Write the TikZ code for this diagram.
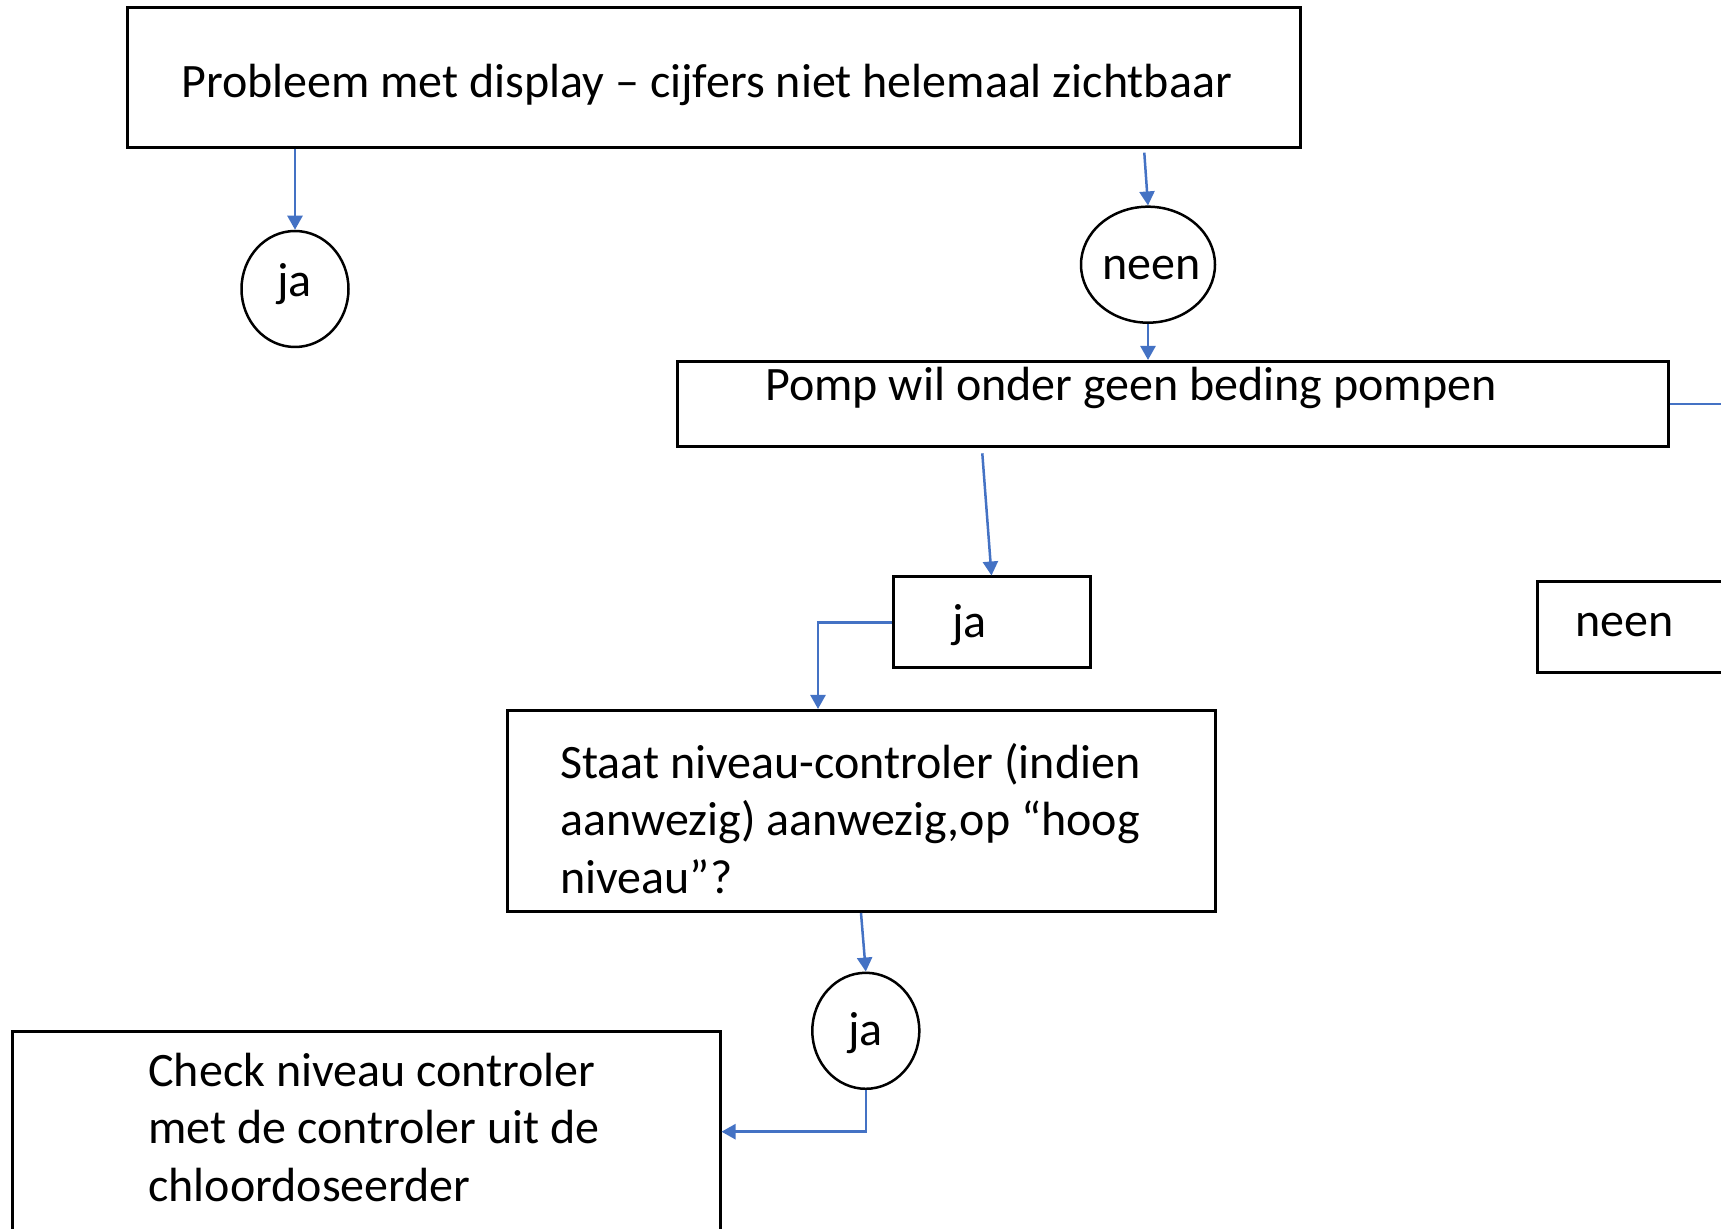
\documentclass[tikz,border=0pt]{standalone}
\usepackage{fontspec}
\setmainfont{Carlito}
\usetikzlibrary{shapes.geometric,arrows.meta,calc}
\definecolor{connblue}{HTML}{4472C4}
\tikzset{
  box/.style={draw=black, line width=1.5pt, rectangle, inner sep=0pt},
  oval/.style={draw=black, line width=1.25pt, ellipse, inner sep=0pt, minimum width=53.5pt, minimum height=58pt},
  conn/.style={draw=connblue, line width=1.25pt, -{Triangle[width=7.5pt,length=7pt]}},
  plainconn/.style={draw=connblue, line width=1.25pt},
  txt/.style={inner sep=0pt, anchor=base west, font=\fontsize{24pt}{28.75pt}\selectfont, align=left},
}
\begin{document}
\begin{tikzpicture}[x=0.5pt,y=-0.5pt]
\useasboundingbox (0,0) rectangle (1721,1229);
\clip (0,0) rectangle (1721,1229);
% boxes
\node[box, minimum width=586.5pt, minimum height=69.75pt] (top) at (713.5,77.4) {};
\node[oval] (ja1) at (295,289) {};
\node[oval, minimum width=67pt] (neenc) at (1148,264.7) {};
\node[box, minimum width=495.5pt, minimum height=42.5pt] (pomp) at (1172.5,404) {};
\node[box, minimum width=98.5pt, minimum height=45.5pt] (jabox) at (991.5,622.5) {};
\node[box, minimum width=131.5pt, minimum height=45.5pt] (neenbox) at (1668.5,627.5) {};
\node[box, minimum width=354pt, minimum height=100.5pt] (staat) at (861,811) {};
\node[oval] (ja2) at (865.8,1030.8) {};
\node[box, minimum width=354pt, minimum height=134pt] (check) at (366,1166) {};
% texts (multi-line texts are anchored at the baseline of their last line)
\node[txt] (ttop) at (181,98) {Probleem met display – cijfers niet helemaal zichtbaar};
\node[txt] (tja1) at (277,297) {ja};
\node[txt] (tneenc) at (1102,280) {neen};
\node[txt] (tpomp) at (765,400.7) {Pomp wil onder geen beding pompen};
\node[txt] (tjabox) at (952,638) {ja};
\node[txt] (tneenbox) at (1575,637) {neen};
\node[txt] (tstaat) at (560,893.5) {Staat niveau-controler (indien\\aanwezig) aanwezig,op “hoog\\niveau”?};
\node[txt] (tja2) at (848,1045) {ja};
\node[txt] (tcheck) at (148,1201) {Check niveau controler\\met de controler uit de\\chloordoseerder};
% connectors
\coordinate (s1) at (1144.3,152.7);
\coordinate (s2) at (982.3,453.3);
\coordinate (t3) at (818,0);
\coordinate (r1) at (1730,404);
\draw[conn] (top.south -| ja1.north) -- (ja1.north);
\draw[conn] (s1) -- (neenc.north);
\draw[conn] (neenc.south) -- (neenc.south |- pomp.north);
\draw[plainconn] (pomp.east) -- (r1);
\draw[conn] (s2) -- (jabox.north);
\draw[conn] (jabox.west) -| (t3 |- staat.north);
\draw[conn] (staat.south) -- (ja2.north);
\draw[conn] (ja2.south) |- (check.east |- 0,1131.7);
\end{tikzpicture}
\end{document}
